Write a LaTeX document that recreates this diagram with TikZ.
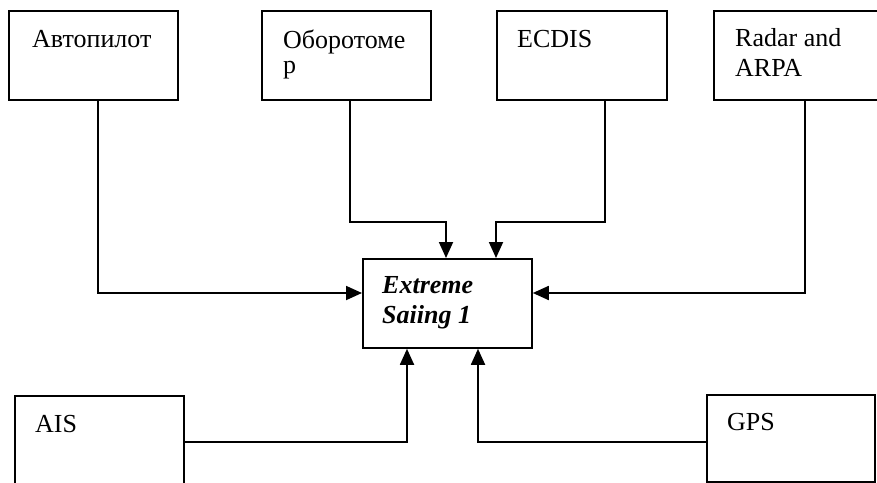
\documentclass[tikz,border=0pt]{standalone}
\usepackage{fontspec}
\setmainfont{Liberation Serif}
\usetikzlibrary{arrows.meta,calc}
\tikzset{
  box/.style={draw, line width=1.8pt, rectangle, inner sep=0pt, anchor=north west},
  txt/.style={anchor=base west, inner sep=0pt, font=\fontsize{26}{30}\selectfont},
  btxt/.style={txt, font=\fontsize{26}{30}\selectfont\bfseries\itshape},
  arr/.style={line width=1.8pt, -{Triangle[length=16pt,width=14pt]}}
}
\begin{document}
\begin{tikzpicture}[x=1pt,y=-1pt]
\useasboundingbox (0,0) rectangle (877,482);
\clip (0,0) rectangle (877,482);
% boxes
\node[box, minimum width=169pt, minimum height=89pt] (auto) at (8,10) {};
\node[box, minimum width=169pt, minimum height=89pt] (obor) at (261,10) {};
\node[box, minimum width=170pt, minimum height=89pt] (ecdis) at (496,10) {};
\node[box, minimum width=170pt, minimum height=89pt] (radar) at (713,10) {};
\node[box, minimum width=169pt, minimum height=89pt] (cent) at (362,258) {};
\node[box, minimum width=169pt, minimum height=110pt] (ais) at (14,395) {};
\node[box, minimum width=168pt, minimum height=87pt] (gps) at (706,394) {};
% texts
\node[txt] (tauto) at ($(auto.north west)+(24,37)$) {Автопилот};
\node[txt] (tobor1) at ($(obor.north west)+(22,38)$) {Оборотоме};
\node[txt] (tobor2) at ($(tobor1.base west)+(0,25)$) {р};
\node[txt] (tecdis) at ($(ecdis.north west)+(21,37)$) {ECDIS};
\node[txt] (tradar1) at ($(radar.north west)+(22,36)$) {Radar and};
\node[txt] (tradar2) at ($(tradar1.base west)+(0,30)$) {ARPA};
\node[btxt] (tcent1) at ($(cent.north west)+(20,35)$) {Extreme};
\node[btxt] (tcent2) at ($(tcent1.base west)+(0,30)$) {Saiing 1};
\node[txt] (tais) at ($(ais.north west)+(21,37)$) {AIS};
\node[txt] (tgps) at ($(gps.north west)+(21,36)$) {GPS};
% connectors
\coordinate (c1) at (98,293);
\draw[arr] (auto.south -| c1) |- (cent.west |- c1);
\coordinate (c2a) at (350,222);
\coordinate (c2b) at (446,222);
\draw[arr] (obor.south -| c2a) -- (c2a) -- (c2b) -- (cent.north -| c2b);
\coordinate (c3a) at (605,222);
\coordinate (c3b) at (496,222);
\draw[arr] (ecdis.south -| c3a) -- (c3a) -- (c3b) -- (cent.north -| c3b);
\coordinate (c4) at (805,293);
\draw[arr] (radar.south -| c4) |- (cent.east |- c4);
\coordinate (c5a) at (183,442);
\coordinate (c5b) at (407,442);
\draw[arr] (ais.east |- c5a) -- (c5b) -- (cent.south -| c5b);
\coordinate (c6a) at (706,442);
\coordinate (c6b) at (478,442);
\draw[arr] (gps.west |- c6a) -- (c6b) -- (cent.south -| c6b);
\end{tikzpicture}
\end{document}
